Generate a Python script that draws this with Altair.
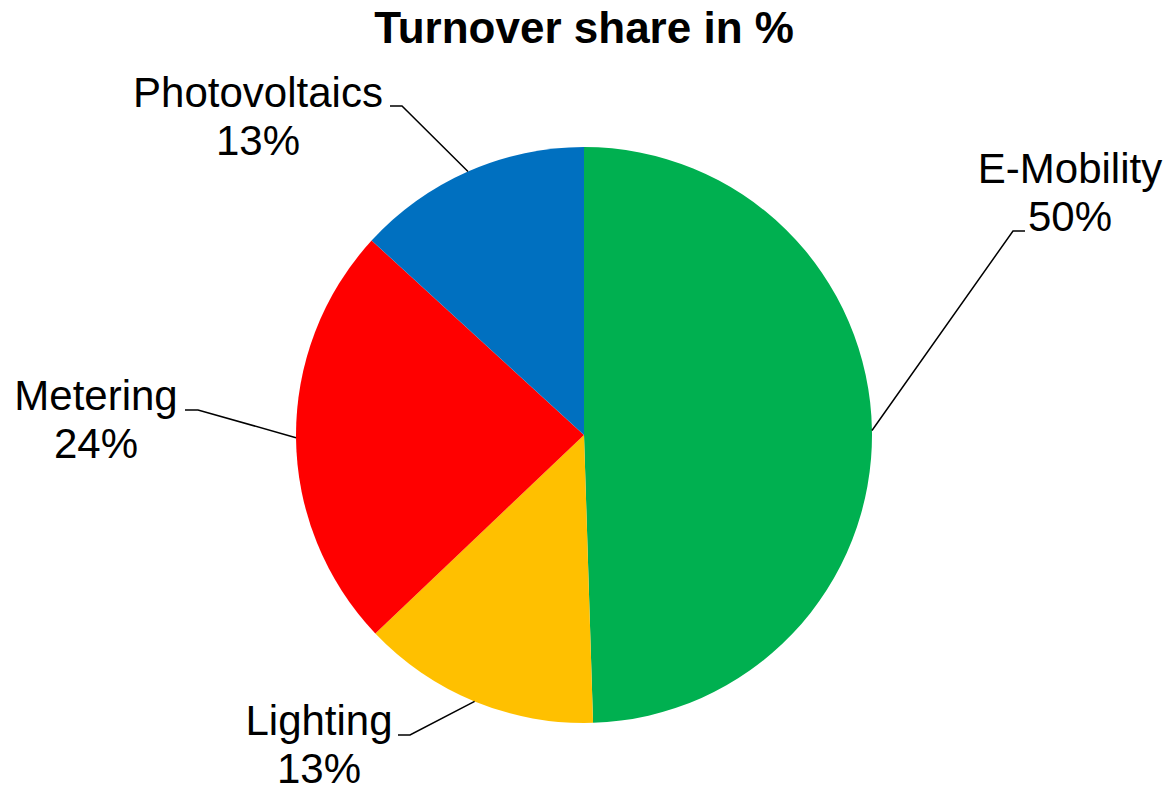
import math
import pandas as pd
import altair as alt

# ---- data ----
categories = ["E-Mobility", "Lighting", "Metering", "Photovoltaics"]
shares = [49.5, 13.4, 23.9, 13.2]
colors = ["#00B050", "#FFC000", "#FF0000", "#0070C0"]

# ---- layout (pixels relative to the pie centre, y pointing up) ----
R = 288
VIEW_W, VIEW_H = 1168, 706
FONT = "Liberation Sans"
label_anchor = {            # centre x of label text, baseline of first line
    "E-Mobility": (486, 252),
    "Lighting": (-265, -300),
    "Metering": (-488, 25),
    "Photovoltaics": (-326, 328),
}
elbow = {
    "E-Mobility": (429, 204),
    "Lighting": (-174, -300),
    "Metering": (-386, 25),
    "Photovoltaics": (-182, 329),
}
tail = {"E-Mobility": 12, "Lighting": -12, "Metering": -13, "Photovoltaics": -12}
LINE_GAP = 48

total = sum(shares)
pie_df = pd.DataFrame({"category": categories, "value": shares, "idx": range(len(categories))})

line_rows, text_rows = [], []
cum = 0.0
for cat, v in zip(categories, shares):
    mid = (cum + v / 2) / total * 2 * math.pi
    cum += v
    sx, sy = R * math.sin(mid), R * math.cos(mid)
    ex, ey = elbow[cat]
    line_rows += [
        {"category": cat, "k": 0, "x": sx, "y": sy},
        {"category": cat, "k": 1, "x": ex, "y": ey},
        {"category": cat, "k": 2, "x": ex + tail[cat], "y": ey},
    ]
    lx, ly = label_anchor[cat]
    text_rows += [
        {"x": lx, "y": ly, "text": cat},
        {"x": lx, "y": ly - LINE_GAP, "text": f"{round(v)}%"},
    ]
line_df = pd.DataFrame(line_rows)
text_df = pd.DataFrame(text_rows)

xs = alt.Scale(domain=[-VIEW_W / 2, VIEW_W / 2], nice=False, zero=False)
ys = alt.Scale(domain=[-VIEW_H / 2, VIEW_H / 2], nice=False, zero=False)

pie = alt.Chart(pie_df).mark_arc(outerRadius=R, innerRadius=0).encode(
    theta=alt.Theta("value:Q", stack=True),
    color=alt.Color("category:N", scale=alt.Scale(domain=categories, range=colors), legend=None),
    order=alt.Order("idx:Q", sort="ascending"),
)

leaders = alt.Chart(line_df).mark_line(color="black", strokeWidth=1.5).encode(
    x=alt.X("x:Q", scale=xs, axis=None),
    y=alt.Y("y:Q", scale=ys, axis=None),
    detail="category:N",
    order="k:Q",
)

labels = alt.Chart(text_df).mark_text(
    font=FONT, fontSize=42, color="black", align="center", baseline="alphabetic"
).encode(
    x=alt.X("x:Q", scale=xs, axis=None),
    y=alt.Y("y:Q", scale=ys, axis=None),
    text="text:N",
)

chart = alt.layer(pie, leaders, labels).properties(
    width=VIEW_W,
    height=VIEW_H,
    title=alt.Title("Turnover share in %", font=FONT, fontSize=44, fontWeight="bold",
                    color="black", anchor="middle", offset=21),
    padding={"left": 0, "right": 1, "top": 82, "bottom": 0},
    autosize=alt.AutoSizeParams(type="none"),
    background="white",
).configure_view(stroke=None)

chart.save("out.html", embed_options={"renderer": "svg", "actions": False})
